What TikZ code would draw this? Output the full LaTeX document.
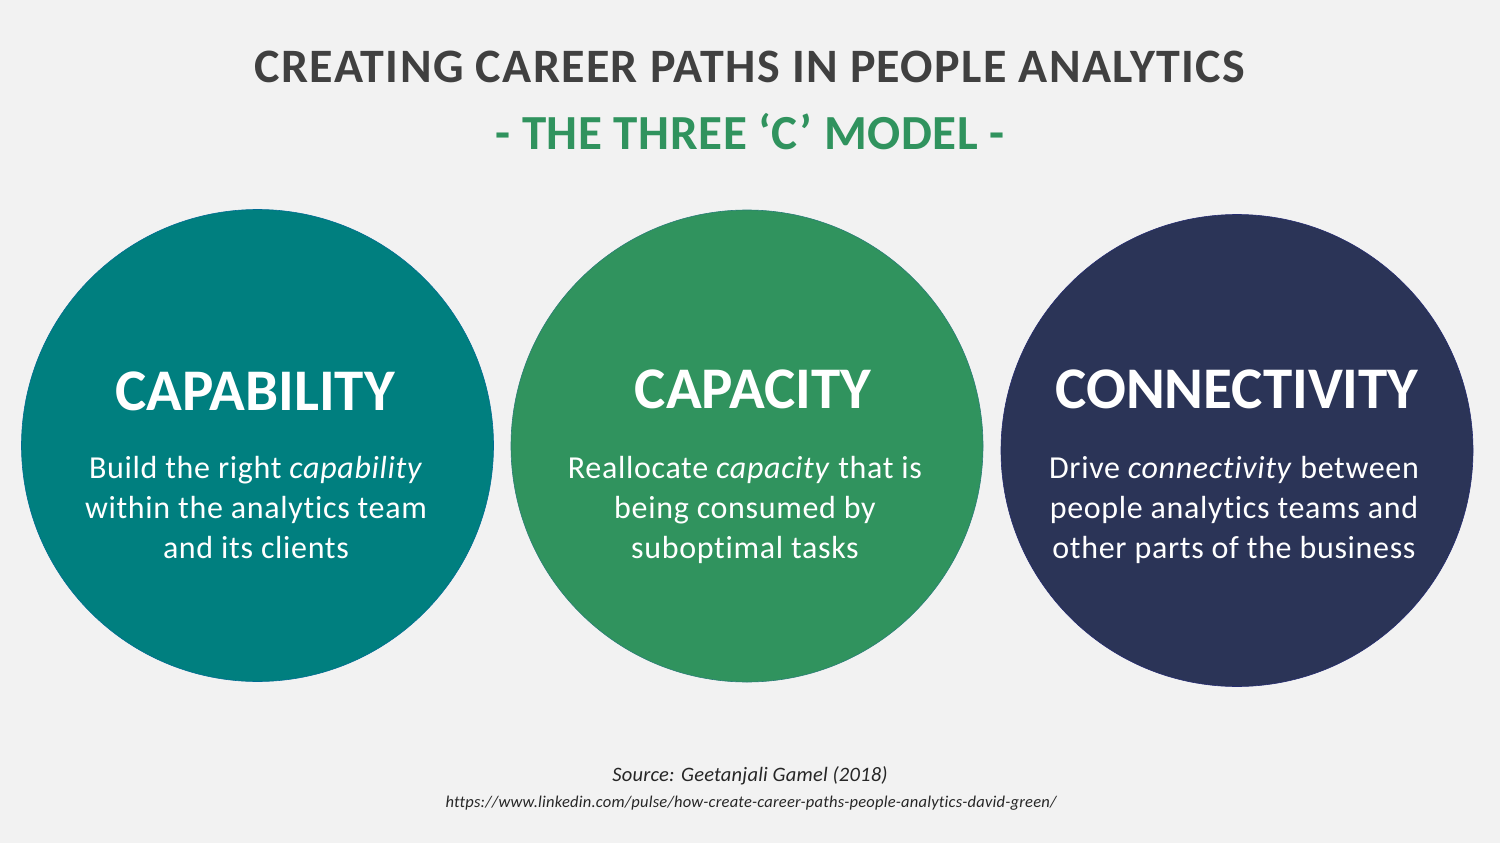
\documentclass[tikz,border=0pt]{standalone}
\usepackage{fontspec}
\setmainfont{Carlito}[Ligatures=CommonOff]
\definecolor{bg}{HTML}{F2F2F2}
\definecolor{titlegray}{HTML}{404040}
\definecolor{cgreen}{HTML}{30935E}
\definecolor{cteal}{HTML}{007F7F}
\definecolor{cnavy}{HTML}{2B3457}
\definecolor{srcgray}{HTML}{262626}
\begin{document}
\begin{tikzpicture}[x=1pt,y=-1pt,
  txt/.style={inner sep=0pt,anchor=base},
  bigc/.style={circle,inner sep=0pt,minimum size=472pt,draw=#1!85!blue,line width=0.6pt,fill=#1},
  head/.style={txt,text=white,font=\fontsize{59}{60}\bfseries\selectfont},
  body/.style={txt,text=white,font=\fontsize{32}{40}\selectfont\addfontfeatures{LetterSpace=2.1}}]
\useasboundingbox (0,0) rectangle (1500,843);
\fill[bg] (0,0) rectangle (1500,843);
\node[txt,text=titlegray,font=\fontsize{48}{56}\bfseries\selectfont\addfontfeatures{LetterSpace=2.8}] (title) at (750,83) {CREATING CAREER PATHS IN PEOPLE ANALYTICS};
\node[txt,text=cgreen,font=\fontsize{49}{56}\bfseries\selectfont\addfontfeatures{LetterSpace=1.2}] (subtitle) at (750,149) {- THE THREE ‘C’ MODEL -};
\node[bigc=cteal] (c1) at (257.5,445.5) {};
\node[bigc=cgreen] (c2) at (747,446) {};
\node[bigc=cnavy] (c3) at (1237,450.5) {};
\node[head] (h1) at (255,410) {CAPABILITY};
\node[body] (b1a) at (256,478) {Build the right \textit{capability}};
\node[body] (b1b) at (256,518) {within the analytics team};
\node[body] (b1c) at (256,558) {and its clients};
\node[head] (h2) at (753,408) {CAPACITY};
\node[body] (b2a) at (745,478) {Reallocate \textit{capacity} that is};
\node[body] (b2b) at (745,518) {being consumed by};
\node[body] (b2c) at (745,558) {suboptimal tasks};
\node[head] (h3) at (1237,408) {CONNECTIVITY};
\node[body] (b3a) at (1234,478) {Drive \textit{connectivity} between};
\node[body] (b3b) at (1234,518) {people analytics teams and};
\node[body] (b3c) at (1234,558) {other parts of the business};
\node[txt,text=srcgray,font=\fontsize{20.5}{22}\itshape\selectfont\addfontfeatures{LetterSpace=1}] (src) at (750,781) {Source: Geetanjali Gamel (2018)};
\node[txt,text=srcgray,font=\fontsize{16.5}{20}\itshape\selectfont\addfontfeatures{LetterSpace=1.3}] (url) at (751,807) {https://www.linkedin.com/pulse/how-create-career-paths-people-analytics-david-green/};
\end{tikzpicture}
\end{document}
